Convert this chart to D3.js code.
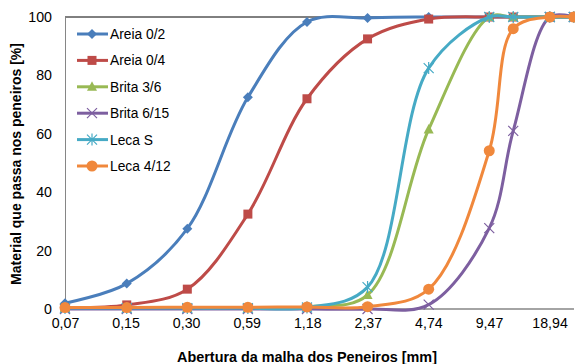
<!DOCTYPE html>
<html>
<head>
<meta charset="utf-8">
<script src="https://cdn.jsdelivr.net/npm/d3@7"></script>
<style>
  body { margin: 0; background: #fff; }
  svg { display: block; font-family: "Liberation Sans", Arial, sans-serif; }
</style>
</head>
<body>
<script>
// sieve openings (mm) and % passing for each material
var sizes = [0.074, 0.15, 0.3, 0.6, 1.18, 2.36, 4.75, 9.5, 12.5, 19, 25];
var tickLabels = ["0,07", "0,15", "0,30", "0,59", "1,18", "2,37", "4,74", "9,47", "18,94"];
var yTicks = [0, 20, 40, 60, 80, 100];

var areia02 = [2, 8.7, 27.5, 72.5, 98.3, 99.7, 100, 100, 100, 100, 100];
var areia04 = [0.5, 1.4, 6.8, 32.5, 72, 92.5, 99.3, 100, 100, 100, 100];
var brita36 = [0.3, 0.3, 0.3, 0.3, 0.8, 4.8, 61.5, 100, 100, 100, 100];
var brita615 = [0, 0, 0, 0, 0, 0, 1.5, 27.7, 61, 100, 100];
var lecaS = [0.3, 0.3, 0.3, 0.3, 0.5, 7.5, 82.5, 100, 100, 100, 100];
var leca412 = [0.5, 0.5, 0.6, 0.6, 0.7, 0.8, 6.8, 54.2, 96, 100, 100];

var seriesNames = ["Areia 0/2", "Areia 0/4", "Brita 3/6", "Brita 6/15", "Leca S", "Leca 4/12"];
var seriesValues = [areia02, areia04, brita36, brita615, lecaS, leca412];
var colors = ["#4A7EBB", "#BE4B48", "#98B954", "#7D5FA0", "#46AAC5", "#F0883C"];
var markers = ["diamond", "square", "triangle", "x", "star", "circle"];

var svgWidth = 575, svgHeight = 364;
var x0 = 65, plotTop = 17, plotBottom = 309, plotRight = 575;

var svg = d3.select("body").append("svg")
  .attr("width", svgWidth)
  .attr("height", svgHeight);

var xScale = d3.scaleLog().base(2)
  .domain([0.074, 0.074 * Math.pow(2, 8.42)])
  .range([x0, plotRight]);

var yScale = d3.scaleLinear()
  .domain([0, 100])
  .range([plotBottom, plotTop]);

// top border
svg.append("line")
  .attr("x1", x0).attr("x2", plotRight)
  .attr("y1", plotTop).attr("y2", plotTop)
  .attr("stroke", "#000").attr("stroke-width", 1);

// left axis
var yAxis = d3.axisLeft(yScale).tickValues(yTicks).tickSize(0).tickPadding(13);
var yg = svg.append("g").attr("transform", `translate(${x0},0)`).call(yAxis);
yg.select(".domain").attr("stroke", "#868686");
yg.selectAll("text").attr("font-size", 14.2).attr("fill", "#000")
  .attr("font-family", "Liberation Sans, Arial, sans-serif");

// bottom axis
var xTickVals = tickLabels.map(function(d, i) { return 0.074 * Math.pow(2, i); });
var xAxis = d3.axisBottom(xScale).tickValues(xTickVals)
  .tickFormat(function(d, i) { return tickLabels[i]; })
  .tickSize(0).tickPadding(9);
var xg = svg.append("g").attr("transform", `translate(0,${plotBottom})`).call(xAxis);
xg.select(".domain").attr("stroke", "#868686").attr("stroke-width", 1.5)
  .attr("d", `M${x0},0H574`);
xg.selectAll("text").attr("font-size", 14.2).attr("fill", "#000")
  .attr("font-family", "Liberation Sans, Arial, sans-serif");

// axis titles
svg.append("text")
  .attr("x", 307).attr("y", 362)
  .attr("text-anchor", "middle")
  .attr("font-size", 14.4).attr("font-weight", "bold")
  .text("Abertura da malha dos Peneiros [mm]");

svg.append("text")
  .attr("transform", "translate(21,164) rotate(-90)")
  .attr("text-anchor", "middle")
  .attr("font-size", 14).attr("font-weight", "bold")
  .text("Material que passa nos peneiros [%]");

function drawMarker(g, type, color) {
  if (type === "diamond") {
    g.append("path").attr("d", "M0,-5L5,0L0,5L-5,0Z").attr("fill", color);
  } else if (type === "square") {
    g.append("rect").attr("x", -4.5).attr("y", -4.5).attr("width", 9).attr("height", 9).attr("fill", color);
  } else if (type === "triangle") {
    g.append("path").attr("d", "M0,-5.5L5,4L-5,4Z").attr("fill", color);
  } else if (type === "x") {
    g.append("path").attr("d", "M-5,-5L5,5M-5,5L5,-5").attr("stroke", color).attr("stroke-width", 1.2);
  } else if (type === "star") {
    g.append("path").attr("d", "M-5,-5L5,5M-5,5L5,-5M0,-6L0,6").attr("stroke", color).attr("stroke-width", 1.2);
  } else {
    g.append("circle").attr("r", 5.5).attr("fill", color);
  }
}

var line = d3.line()
  .x(function(d) { return xScale(d[0]); })
  .y(function(d) { return yScale(d[1]); })
  .curve(d3.curveCatmullRom.alpha(0.5));

seriesValues.forEach(function(vals, i) {
  var pts = sizes.map(function(s, j) { return [s, vals[j]]; });
  var g = svg.append("g");
  g.append("path")
    .datum(pts)
    .attr("d", line)
    .attr("fill", "none")
    .attr("stroke", colors[i])
    .attr("stroke-width", 3);
  pts.forEach(function(p) {
    var m = g.append("g").attr("transform", `translate(${xScale(p[0])},${yScale(p[1])})`);
    drawMarker(m, markers[i], colors[i]);
  });
});

// legend
var legend = svg.append("g");
seriesNames.forEach(function(name, i) {
  var y = 34 + i * 26.4;
  var row = legend.append("g").attr("transform", `translate(0,${y})`);
  row.append("line").attr("x1", 77).attr("x2", 108).attr("y1", 0).attr("y2", 0)
    .attr("stroke", colors[i]).attr("stroke-width", 3);
  var m = row.append("g").attr("transform", "translate(92,0)");
  drawMarker(m, markers[i], colors[i]);
  row.append("text").attr("x", 110).attr("y", 5)
    .attr("font-size", 13.8).attr("fill", "#000").text(name);
});
</script>
</body>
</html>
